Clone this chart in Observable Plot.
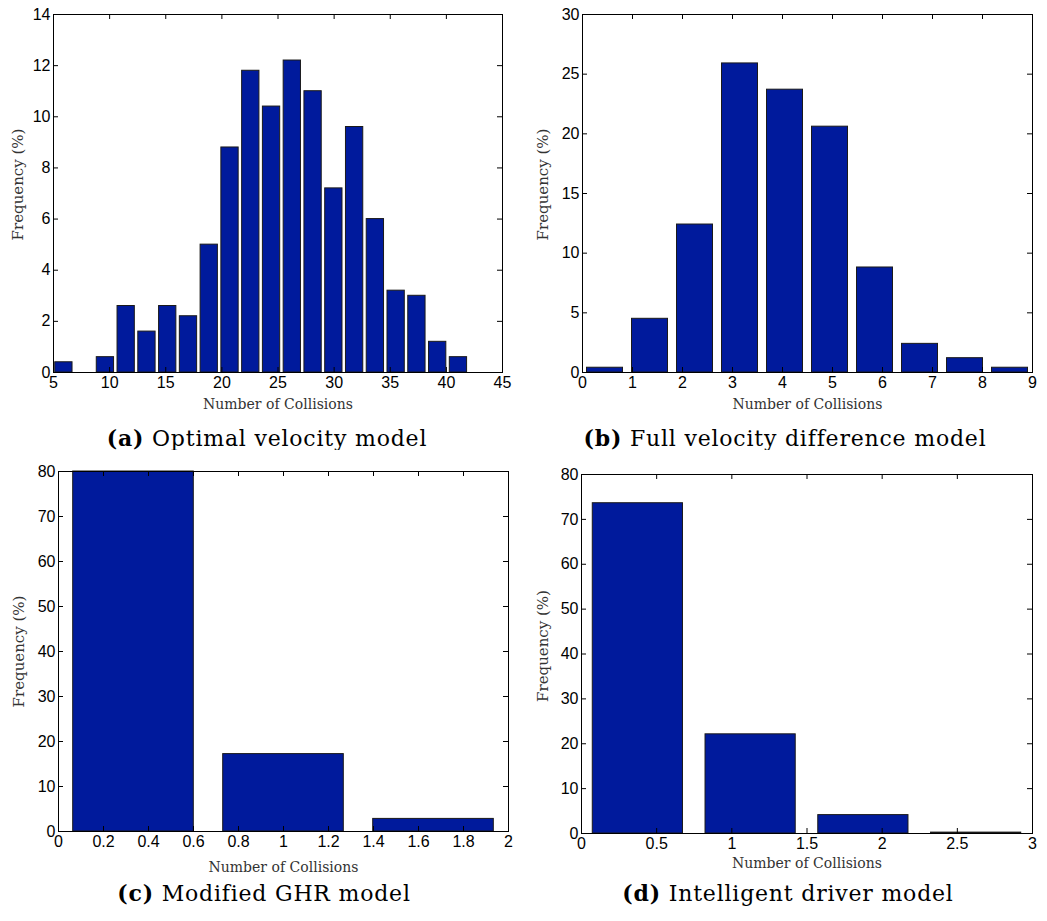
<!DOCTYPE html>
<html>
<head>
<meta charset="utf-8">
<script src="https://cdn.jsdelivr.net/npm/d3@7"></script>
<script src="https://cdn.jsdelivr.net/npm/@observablehq/plot@0.6"></script>
<style>
  html, body { margin: 0; padding: 0; background: #fff; }
  #root { position: relative; width: 1047px; height: 921px; overflow: hidden; background: #fff; }
  .panel { position: absolute; }
  .caption { position: absolute; transform: translate(-50%, -50%); white-space: nowrap;
             font-family: "DejaVu Serif", serif; font-size: 22px; letter-spacing: 0.8px; color: #000; }
  .caption b { font-weight: bold; }
</style>
</head>
<body>
<div id="root"></div>
<script>
// ---------- data ----------
// (a) Optimal velocity model
const centersA = [5.925, 7.775, 9.625, 11.475, 13.325, 15.175, 17.025, 18.875, 20.725, 22.575,
                  24.425, 26.275, 28.125, 29.975, 31.825, 33.675, 35.525, 37.375, 39.225, 41.075];
const freqA    = [0.4, 0, 0.6, 2.6, 1.6, 2.6, 2.2, 5.0, 8.8, 11.8,
                  10.4, 12.2, 11.0, 7.2, 9.6, 6.0, 3.2, 3.0, 1.2, 0.6];
const xTicksA  = [5, 10, 15, 20, 25, 30, 35, 40, 45];
const yTicksA  = [0, 2, 4, 6, 8, 10, 12, 14];

// (b) Full velocity difference model
const centersB = [0.45, 1.35, 2.25, 3.15, 4.05, 4.95, 5.85, 6.75, 7.65, 8.55];
const freqB    = [0.4, 4.5, 12.4, 25.9, 23.7, 20.6, 8.8, 2.4, 1.2, 0.4];
const xTicksB  = [0, 1, 2, 3, 4, 5, 6, 7, 8, 9];
const yTicksB  = [0, 5, 10, 15, 20, 25, 30];

// (c) Modified GHR model
const centersC = [0.3333, 1.0, 1.6667];
const freqC    = [80.0, 17.2, 2.8];
const xTicksC  = [0, 0.2, 0.4, 0.6, 0.8, 1, 1.2, 1.4, 1.6, 1.8, 2];
const yTicksC  = [0, 10, 20, 30, 40, 50, 60, 70, 80];

// (d) Intelligent driver model
const centersD = [0.375, 1.125, 1.875, 2.625];
const freqD    = [73.6, 22.1, 4.1, 0.2];
const xTicksD  = [0, 0.5, 1, 1.5, 2, 2.5, 3];
const yTicksD  = [0, 10, 20, 30, 40, 50, 60, 70, 80];

const xLabel = "Number of Collisions";
const yLabel = "Frequency (%)";
const captions = [
  ["(a)", "Optimal velocity model"],
  ["(b)", "Full velocity difference model"],
  ["(c)", "Modified GHR model"],
  ["(d)", "Intelligent driver model"]
];

// ---------- drawing ----------
const BAR = "#001a9c";
const fmt = d => String(d);

function panel(cfg) {
  const {centers, freq, half, xTicks, yTicks, width, height, ml, mr, mt, mb, xlDy, ylDx, ylDy} = cfg;
  const data = centers.map((c, i) => ({c, f: freq[i]}));
  const fw = width - ml - mr, fh = height - mt - mb;
  return Plot.plot({
    width, height,
    marginLeft: ml, marginRight: mr, marginTop: mt, marginBottom: mb,
    x: {domain: [xTicks[0], xTicks[xTicks.length - 1]], label: null},
    y: {domain: [yTicks[0], yTicks[yTicks.length - 1]], label: null},
    style: {fontFamily: "'Liberation Sans', Arial, sans-serif", fontSize: "16px", color: "#000", background: "#fff", overflow: "visible"},
    marks: [
      Plot.rectY(data, {x1: d => d.c - half, x2: d => d.c + half, y: "f",
                        fill: BAR, stroke: "#1a1a1a", strokeWidth: 1}),
      Plot.frame({stroke: "#000", strokeWidth: 1}),
      Plot.tickX(xTicks, {x: d => d, insetTop: fh - 5, stroke: "#000"}),
      Plot.tickX(xTicks, {x: d => d, insetBottom: fh - 5, stroke: "#000"}),
      Plot.tickY(yTicks, {y: d => d, insetRight: fw - 5, stroke: "#000"}),
      Plot.tickY(yTicks, {y: d => d, insetLeft: fw - 5, stroke: "#000"}),
      Plot.axisX(xTicks, {tickSize: 0, tickPadding: 4, label: null, fontSize: 16, tickFormat: fmt}),
      Plot.axisY(yTicks, {tickSize: 0, tickPadding: 3, label: null, fontSize: 16, tickFormat: fmt}),
      Plot.text([xLabel], {text: d => d, frameAnchor: "bottom", textAnchor: "middle", lineAnchor: "middle",
                           dy: xlDy, fontFamily: "'DejaVu Serif', serif", fontSize: 14, fill: "#333"}),
      Plot.text([yLabel], {text: d => d, frameAnchor: "left", textAnchor: "middle", lineAnchor: "middle",
                           dx: ylDx, dy: ylDy, rotate: -90,
                           fontFamily: "'DejaVu Serif', serif", fontSize: 15, fill: "#333"})
    ]
  });
}

const root = document.getElementById("root");
const specs = [
  {left: 0,   top: 0,   centers: centersA, freq: freqA, half: 0.77,  xTicks: xTicksA, yTicks: yTicksA,
   width: 523, height: 420, ml: 53, mr: 21, mt: 14, mb: 48, xlDy: 32, ylDx: -35, ylDy: -9,
   cap: captions[0], capX: 267, capY: 438},
  {left: 523, top: 0,   centers: centersB, freq: freqB, half: 0.36,  xTicks: xTicksB, yTicks: yTicksB,
   width: 524, height: 420, ml: 59, mr: 15, mt: 14, mb: 48, xlDy: 32, ylDx: -39, ylDy: -9,
   cap: captions[1], capX: 785, capY: 438},
  {left: 0,   top: 450, centers: centersC, freq: freqC, half: 0.268, xTicks: xTicksC, yTicks: yTicksC,
   width: 523, height: 420, ml: 58, mr: 15, mt: 21, mb: 39, xlDy: 36, ylDx: -39, ylDy: 0,
   cap: captions[2], capX: 264, capY: 893},
  {left: 523, top: 450, centers: centersD, freq: freqD, half: 0.30,  xTicks: xTicksD, yTicks: yTicksD,
   width: 524, height: 420, ml: 58, mr: 15, mt: 24, mb: 37, xlDy: 30, ylDx: -38, ylDy: -8,
   cap: captions[3], capX: 788, capY: 893}
];

for (const s of specs) {
  const div = document.createElement("div");
  div.className = "panel";
  div.style.left = s.left + "px";
  div.style.top = s.top + "px";
  div.appendChild(panel(s));
  root.appendChild(div);
  const cap = document.createElement("div");
  cap.className = "caption";
  cap.style.left = s.capX + "px";
  cap.style.top = s.capY + "px";
  const b = document.createElement("b");
  b.textContent = s.cap[0];
  cap.appendChild(b);
  cap.appendChild(document.createTextNode(" " + s.cap[1]));
  root.appendChild(cap);
}
</script>
</body>
</html>
